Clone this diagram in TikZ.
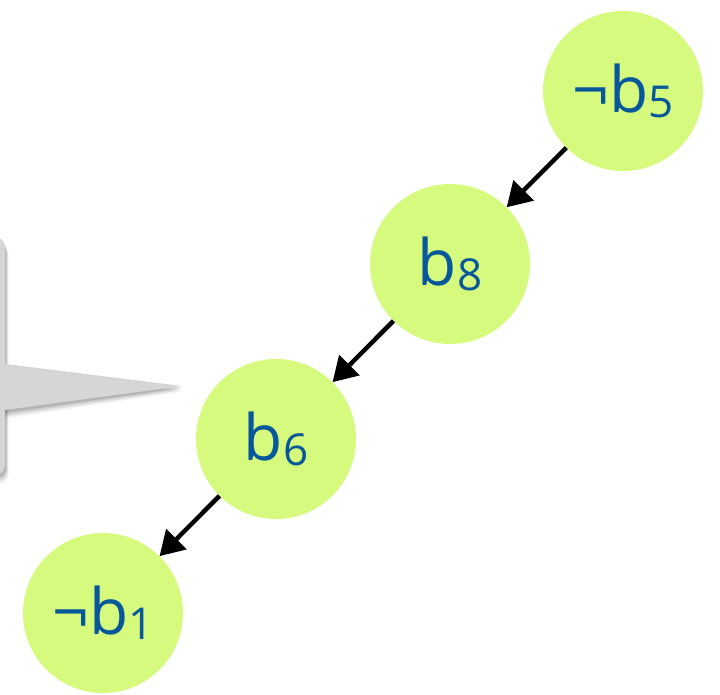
\documentclass[tikz,border=0pt]{standalone}
\usepackage{fontspec}
\setmainfont{Open Sans}
\usetikzlibrary{arrows.meta}
\definecolor{nodegreen}{HTML}{D5FA7E}
\definecolor{textblue}{HTML}{07589A}
\definecolor{calloutgray}{HTML}{D6D6D6}
\newcommand{\subd}[1]{\raisebox{-5pt}{\fontsize{44}{44}\selectfont #1}}
\begin{document}
\begin{tikzpicture}[x=1pt,y=-1pt,
  lit/.style={circle, fill=nodegreen, minimum size=160pt, inner sep=0pt,
    text=textblue, font=\fontsize{64}{64}\selectfont},
  imp/.style={line width=4.5pt, -{Triangle[length=24pt,width=28pt]}},
  calloutshape/.style={fill=calloutgray}]
\useasboundingbox (0,0) rectangle (720,695);
% callout shadow
\foreach \o/\a in {9/0.05,7/0.07,5/0.09,3/0.12}{
  \fill[black,opacity=\a,rounded corners=10pt] (-300,{237+\o}) rectangle ({5+\o*0.4},{475+\o});
  \fill[black,opacity=\a] (-10,{362+\o}) -- ({182},{386+\o*0.6}) -- (-10,{412+\o}) -- cycle;
}
% callout
\fill[calloutshape,rounded corners=10pt] (-300,237) rectangle (5,475);
\fill[calloutshape] (-10,362) -- (182,386) -- (-10,412) -- cycle;
% nodes
\node[lit] (b5) at (623,91) {¬b\subd{5}};
\node[lit] (b8) at (450,264) {b\subd{8}};
\node[lit] (b6) at (276,439) {b\subd{6}};
\node[lit] (b1) at (103,613) {¬b\subd{1}};
% arrows
\draw[imp] (b5) -- (b8);
\draw[imp] (b8) -- (b6);
\draw[imp] (b6) -- (b1);
\end{tikzpicture}
\end{document}
